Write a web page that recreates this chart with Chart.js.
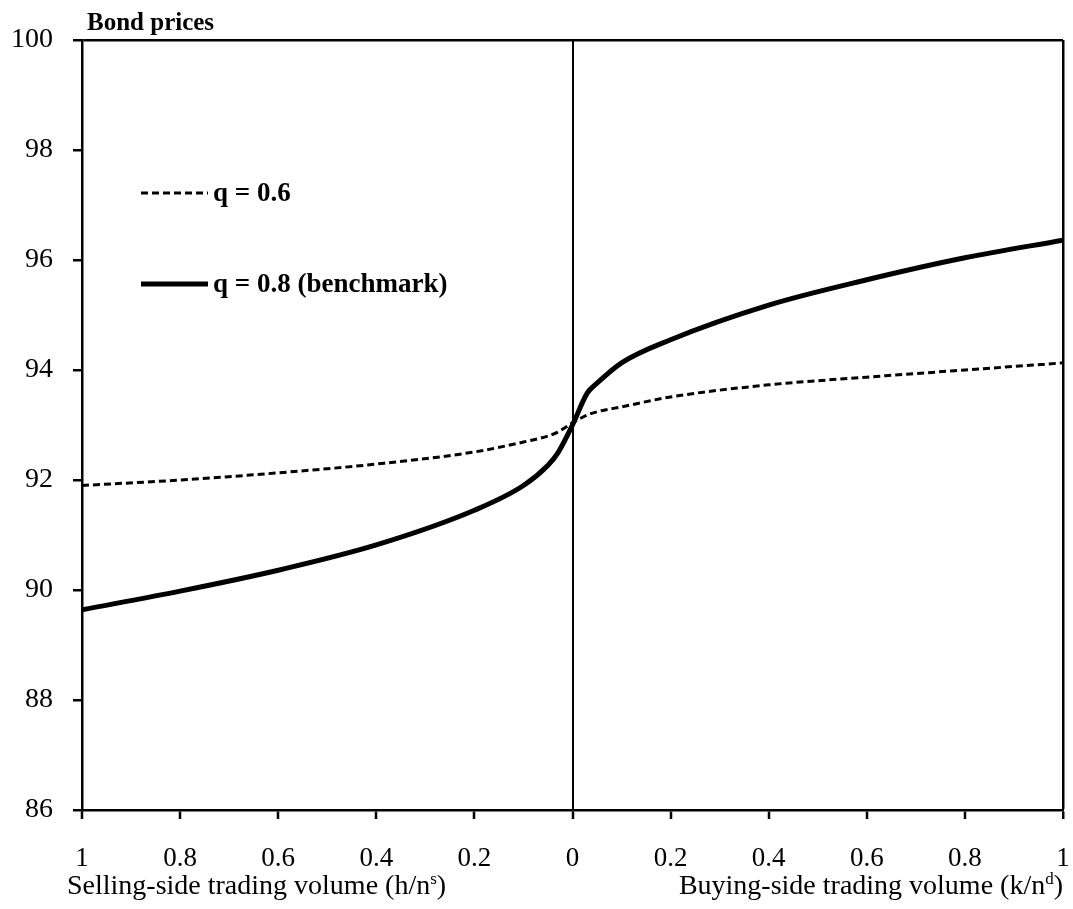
<!DOCTYPE html>
<html>
<head>
<meta charset="utf-8">
<script src="https://cdn.jsdelivr.net/npm/chart.js@4.4.1/dist/chart.umd.min.js"></script>
<style>
  html, body { margin: 0; padding: 0; background: #fff; }
  #wrap { width: 1073px; height: 909px; }
</style>
</head>
<body>
<div id="wrap"><canvas id="bondChart"></canvas></div>
<script>
// trading volume: negative = selling side (h/n^s), positive = buying side (k/n^d)
const volume = [-1, -0.8, -0.6, -0.4, -0.2, -0.1, -0.05, -0.03, 0, 0.03, 0.05, 0.1, 0.2, 0.4, 0.6, 0.8, 1];
const priceQ06 = [91.9, 92.0, 92.13, 92.29, 92.51, 92.69, 92.8, 92.87, 93.04, 93.18, 93.24, 93.33, 93.51, 93.73, 93.87, 94.0, 94.13];
const priceQ08 = [89.64, 89.98, 90.36, 90.82, 91.45, 91.9, 92.27, 92.49, 93.0, 93.58, 93.76, 94.13, 94.55, 95.18, 95.64, 96.04, 96.36];
const seriesNames = ['q = 0.6', 'q = 0.8 (benchmark)'];
const yTicks = [86, 88, 90, 92, 94, 96, 98, 100];

const SERIF = '"Palatino Linotype", "Book Antiqua", Palatino, "Liberation Serif", serif';

const toPoints = (ys) => volume.map((x, i) => ({ x: x, y: ys[i] }));

// draws text with superscript pieces: parts = [[text, isSup], ...]
function drawRich(ctx, parts, x, y, align, size) {
  const widths = parts.map(([t, sup]) => {
    ctx.font = (sup ? Math.round(size * 0.62) : size) + 'px ' + SERIF;
    return ctx.measureText(t).width;
  });
  const total = widths.reduce((a, b) => a + b, 0);
  let cx = align === 'right' ? x - total : x;
  parts.forEach(([t, sup], i) => {
    ctx.font = (sup ? Math.round(size * 0.62) : size) + 'px ' + SERIF;
    ctx.fillText(t, cx, sup ? y - size * 0.36 : y);
    cx += widths[i];
  });
}

const decorations = {
  id: 'decorations',
  afterDraw(chart) {
    const ctx = chart.ctx;
    ctx.save();
    ctx.fillStyle = '#000';
    ctx.textBaseline = 'alphabetic';
    ctx.textAlign = 'left';

    ctx.font = 'bold 25px ' + SERIF;
    ctx.fillText('Bond prices', 87, 30);

    drawRich(ctx, [['Selling-side trading volume (h/n', false], ['s', true], [')', false]], 67, 894, 'left', 28);
    drawRich(ctx, [['Buying-side trading volume (k/n', false], ['d', true], [')', false]], 1063, 894, 'right', 28);

    // legend inside the plot
    const rows = [193, 284];
    chart.data.datasets.forEach((ds, i) => {
      const y = rows[i];
      ctx.save();
      ctx.strokeStyle = ds.borderColor;
      ctx.lineWidth = ds.borderWidth;
      ctx.setLineDash(ds.borderDash || []);
      ctx.lineCap = 'butt';
      ctx.beginPath();
      ctx.moveTo(141, y);
      ctx.lineTo(208, y);
      ctx.stroke();
      ctx.restore();
      ctx.font = 'bold 27px ' + SERIF;
      ctx.textBaseline = 'middle';
      ctx.fillText(ds.label, 213, y + 1);
    });
    ctx.restore();
  }
};

new Chart(document.getElementById('bondChart'), {
  type: 'line',
  data: {
    datasets: [
      {
        label: seriesNames[0],
        data: toPoints(priceQ06),
        borderColor: '#000',
        borderWidth: 3,
        borderDash: [7, 4],
        pointRadius: 0,
        cubicInterpolationMode: 'monotone',
        fill: false
      },
      {
        label: seriesNames[1],
        data: toPoints(priceQ08),
        borderColor: '#000',
        borderWidth: 5,
        pointRadius: 0,
        cubicInterpolationMode: 'monotone',
        fill: false
      }
    ]
  },
  options: {
    responsive: true,
    maintainAspectRatio: false,
    animation: false,
    layout: { padding: { top: 40, right: 10, left: 0, bottom: 0 } },
    plugins: {
      legend: { display: false },
      tooltip: { enabled: false }
    },
    scales: {
      x: {
        type: 'linear',
        min: -1,
        max: 1,
        afterFit: (scale) => {
          scale.height = 99;
          scale.paddingLeft = 0;
          scale.paddingRight = 0;
        },
        ticks: {
          stepSize: 0.2,
          padding: 24,
          color: '#000',
          font: { family: SERIF, size: 27 },
          maxRotation: 0,
          callback: (v) => String(parseFloat(Math.abs(v).toFixed(1)))
        },
        grid: {
          color: (c) => (c.tick && (Math.abs(c.tick.value) < 1e-9 || c.tick.value === 1)) ? '#000' : 'rgba(0,0,0,0)',
          lineWidth: (c) => (c.tick && c.tick.value === 1) ? 2.5 : 2,
          tickColor: '#000',
          tickLength: 9,
          tickWidth: 2.5
        },
        border: { color: '#000', width: 2.5 }
      },
      y: {
        min: 86,
        max: 100,
        afterFit: (scale) => {
          scale.width = 82;
          scale.paddingTop = 0;
          scale.paddingBottom = 0;
        },
        afterBuildTicks: (scale) => { scale.ticks = yTicks.map((v) => ({ value: v })); },
        ticks: {
          padding: 20,
          color: '#000',
          font: { family: SERIF, size: 28 }
        },
        grid: {
          color: (c) => (c.tick && c.tick.value === 100) ? '#000' : 'rgba(0,0,0,0)',
          lineWidth: 2.5,
          tickColor: '#000',
          tickLength: 9,
          tickWidth: 2.5
        },
        border: { color: '#000', width: 2.5 }
      }
    }
  },
  plugins: [decorations]
});
</script>
</body>
</html>
